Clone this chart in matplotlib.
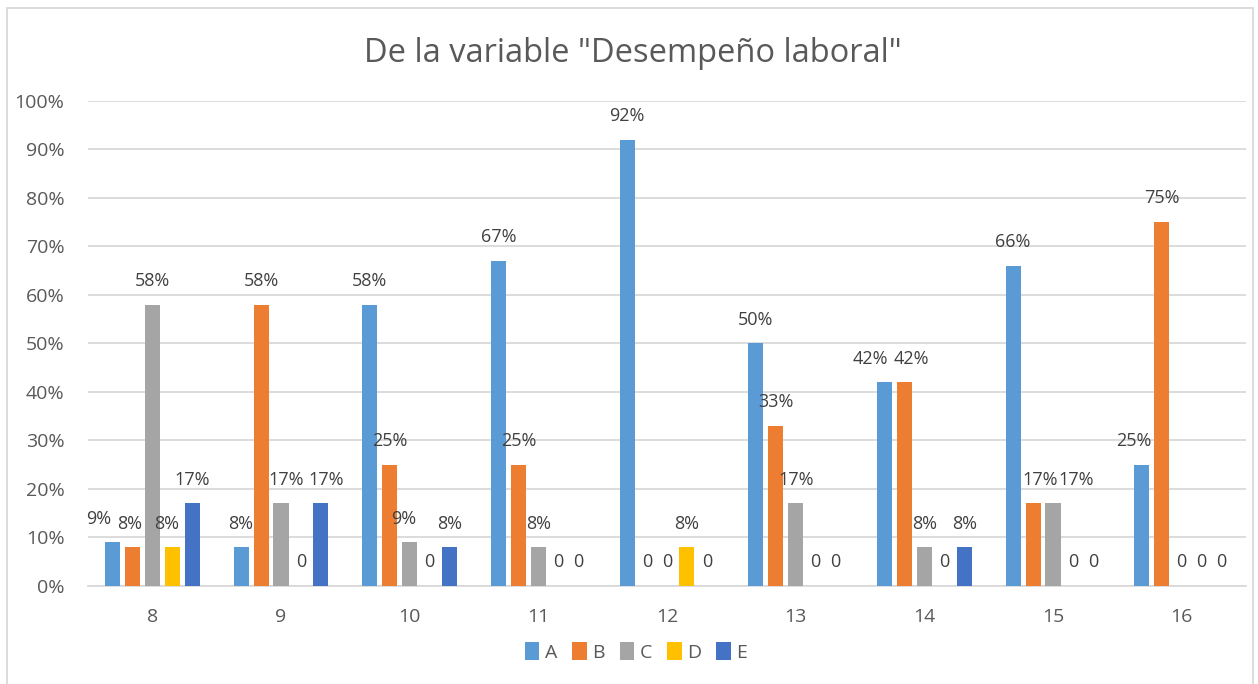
import matplotlib.pyplot as plt
import numpy as np
from matplotlib.patches import Rectangle

plt.rcParams["font.family"] = ["Open Sans", "DejaVu Sans"]

CATEGORIES = ["8", "9", "10", "11", "12", "13", "14", "15", "16"]
SERIES = ["A", "B", "C", "D", "E"]
A = [0.09, 0.08, 0.58, 0.67, 0.92, 0.50, 0.42, 0.66, 0.25]
B = [0.08, 0.58, 0.25, 0.25, 0.00, 0.33, 0.42, 0.17, 0.75]
C = [0.58, 0.17, 0.09, 0.08, 0.00, 0.17, 0.08, 0.17, 0.00]
D = [0.08, 0.00, 0.00, 0.00, 0.08, 0.00, 0.00, 0.00, 0.00]
E = [0.17, 0.17, 0.08, 0.00, 0.00, 0.00, 0.08, 0.00, 0.00]
COLORS = ["#5B9BD5", "#ED7D31", "#A5A5A5", "#FFC000", "#4472C4"]

# label nudges (points) where Excel spread colliding labels apart
NUDGE = {(0, 0): -10, (0, 1): -2, (0, 3): -4, (1, 2): 4, (1, 4): 4, (2, 2): -4,
         (6, 0): -10, (6, 1): 5, (7, 1): 5, (7, 2): 17, (8, 0): -6}

W, H = 1258, 684
fig = plt.figure(figsize=(W / 100, H / 100), dpi=100)
ax = fig.add_axes([88 / W, (H - 586) / H, (1246 - 88) / W, (586 - 100.7) / H])

x = np.arange(len(CATEGORIES))
step, width = 0.155, 0.117
for i, (name, vals, col) in enumerate(zip(SERIES, [A, B, C, D, E], COLORS)):
    pos = x + (i - 2) * step
    ax.bar(pos, vals, width=width, color=col, label=name, zorder=3)
    for j, (px, v) in enumerate(zip(pos, vals)):
        txt = "0" if v == 0 else f"{v * 100:.0f}%"
        ax.annotate(txt, (px, v), xytext=(NUDGE.get((j, i), 0), 17),
                    textcoords="offset points", ha="center", va="center",
                    fontsize=13, color="#404040")

ax.set_xlim(-0.5, len(CATEGORIES) - 0.5)
ax.set_ylim(0, 1)
ax.set_yticks(np.arange(0, 1.01, 0.1))
ax.set_yticklabels([f"{t}%" for t in range(0, 101, 10)])
ax.set_xticks(x)
ax.set_xticklabels(CATEGORIES)
ax.tick_params(axis="both", length=0, labelsize=14, labelcolor="#595959")
ax.tick_params(axis="x", pad=16)
ax.tick_params(axis="y", pad=17)
ax.grid(axis="y", color="#D9D9D9", linewidth=1.3, zorder=0)
for s in ["top", "right", "left"]:
    ax.spines[s].set_visible(False)
ax.spines["bottom"].set_color("#D9D9D9")
ax.spines["bottom"].set_linewidth(1.3)

fig.text(633 / W, 1 - 54 / H, 'De la variable "Desempeño laboral"', ha="center",
         va="center", fontsize=23.5, color="#595959")

fig.legend(loc="center", bbox_to_anchor=(636 / W, 1 - 652 / H), ncol=5, frameon=False,
           fontsize=14, handlelength=0.75, handleheight=1.0, handletextpad=0.3,
           columnspacing=0.75, labelcolor="#595959")

fig.patches.append(Rectangle((7 / W, -0.1), (1253 - 7) / W, 1.1 - 8 / H,
                             transform=fig.transFigure, fill=False,
                             edgecolor="#D9D9D9", linewidth=1.3))

fig.savefig("out.png", dpi=100)
